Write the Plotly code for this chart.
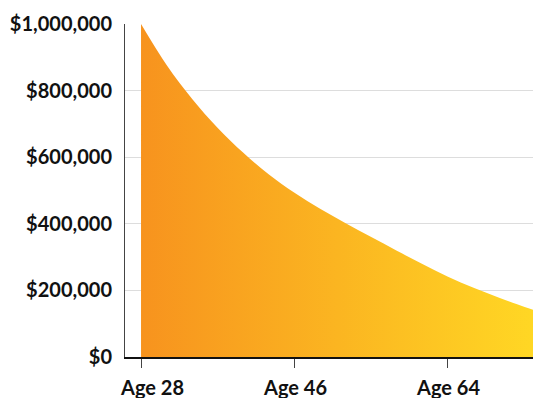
import plotly.graph_objects as go

ages = [28, 31, 34, 37, 40, 43, 46, 49, 52, 55, 58, 61, 64, 67, 70, 73, 74]
values = [1000000, 877000, 775000, 688000, 613000, 548000, 493000, 445000,
          402000, 360000, 319000, 279000, 241000, 208000, 178000, 150000, 141500]

x_tick_ages = [28, 46, 64]
x_tick_labels = ["Age 28", "Age 46", "Age 64"]
y_tick_vals = [0, 200000, 400000, 600000, 800000, 1000000]
y_tick_labels = ["$0", "$200,000", "$400,000", "$600,000", "$800,000", "$1,000,000"]

FONT = "Lato"

fig = go.Figure()
fig.add_trace(go.Scatter(
    x=ages, y=values, mode="lines", line=dict(width=0, shape="spline", smoothing=1.0),
    fill="tozeroy",
    fillgradient=dict(type="horizontal",
                      colorscale=[[0, "#F7931E"], [1, "#FFD724"]]),
    hoverinfo="skip", showlegend=False,
))

annotations = []
for a, lab in zip(x_tick_ages, x_tick_labels):
    annotations.append(dict(
        x=a, y=0, xref="x", yref="paper", text=f"<b>{lab}</b>", showarrow=False,
        xanchor="center", yanchor="top", yshift=-16,
        xshift=11 if a == x_tick_ages[0] else 0,
        font=dict(family=FONT, size=20, color="#111111"),
    ))

fig.update_layout(
    width=533, height=398,
    margin=dict(l=125, r=0, t=24, b=41),
    plot_bgcolor="white", paper_bgcolor="white",
    annotations=annotations,
    xaxis=dict(
        range=[26.12, 73.97], tickvals=x_tick_ages, showticklabels=False,
        ticks="outside", ticklen=9, tickwidth=1, tickcolor="#444444",
        showline=True, linecolor="#111111", linewidth=1.5,
        showgrid=False, zeroline=False,
    ),
    yaxis=dict(
        range=[0, 1000000], tickvals=y_tick_vals, ticktext=[f"<b>{t}</b>" for t in y_tick_labels],
        showline=True, linecolor="#444444", linewidth=1,
        showgrid=True, gridcolor="#dddddd", gridwidth=1,
        zeroline=False, ticks="", ticklabelstandoff=8,
        tickfont=dict(family=FONT, size=20, color="#111111"),
    ),
)

fig.write_html("out.html")
